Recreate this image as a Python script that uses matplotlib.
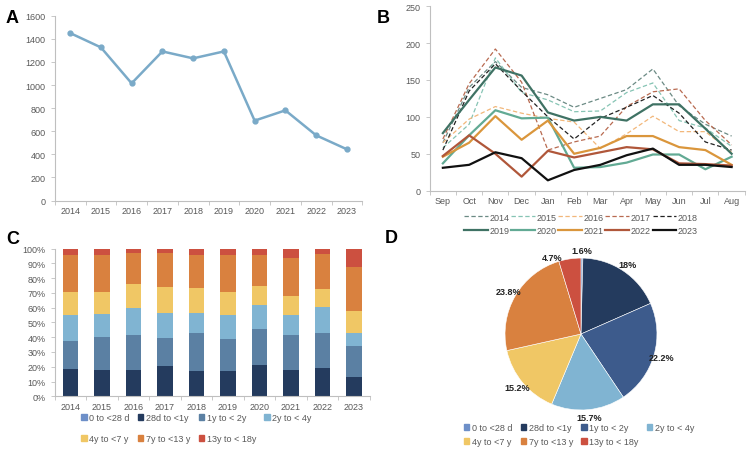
import matplotlib
matplotlib.use('Agg')
import matplotlib.pyplot as plt
from matplotlib.patches import Patch
import numpy as np

plt.rcParams['font.family'] = ['Liberation Sans', 'DejaVu Sans']
plt.rcParams['font.size'] = 6.5

# ---- data ----
years = ['2014', '2015', '2016', '2017', '2018', '2019', '2020', '2021', '2022', '2023']
admissions = [1450, 1326, 1015, 1291, 1231, 1291, 692, 781, 565, 444]

months = ['Sep', 'Oct', 'Nov', 'Dec', 'Jan', 'Feb', 'Mar', 'Apr', 'May', 'Jun', 'Jul', 'Aug']
monthly = {
    '2014': [65, 140, 175, 140, 130, 113, 125, 137, 165, 115, 90, 74],
    '2015': [58, 90, 180, 133, 123, 107, 108, 133, 146, 95, 85, 60],
    '2016': [65, 97, 114, 105, 98, 93, 57, 77, 101, 80, 80, 52],
    '2017': [70, 145, 192, 147, 55, 66, 74, 114, 134, 138, 95, 62],
    '2018': [55, 135, 172, 135, 100, 70, 98, 113, 129, 105, 66, 55],
    '2019': [78, 123, 167, 156, 106, 95, 100, 95, 117, 117, 84, 50],
    '2020': [37, 75, 109, 98, 99, 31, 32, 38, 49, 49, 29, 46],
    '2021': [46, 65, 101, 69, 95, 50, 58, 74, 74, 59, 55, 35],
    '2022': [47, 75, 50, 19, 54, 45, 52, 59, 56, 37, 36, 34],
    '2023': [31, 35, 52, 44, 14, 28, 35, 48, 57, 35, 35, 32],
}
month_colors = {
    '2014': '#6b8a84', '2015': '#86c4b4', '2016': '#f2b77a', '2017': '#b86a50',
    '2018': '#222222', '2019': '#3f7264', '2020': '#62aa94', '2021': '#da963c',
    '2022': '#b0573a', '2023': '#111111',
}
dashed_years = ['2014', '2015', '2016', '2017', '2018']

age_groups = ['0 to <28 d', '28d to <1y', '1y to < 2y', '2y to < 4y',
              '4y to <7 y', '7y to <13 y', '13y to < 18y']
age_share = [  # percent per year, in age_groups order
    [0, 18.5, 19.1, 17.4, 15.3, 25.4, 4.3],
    [0, 17.6, 22.3, 16.0, 14.8, 25.2, 4.1],
    [0, 17.6, 23.8, 18.1, 16.2, 21.4, 2.9],
    [0, 20.5, 18.9, 17.1, 17.6, 23.0, 2.9],
    [0, 16.9, 25.9, 13.5, 16.9, 22.1, 4.7],
    [0, 17.1, 21.6, 16.3, 15.9, 25.0, 4.1],
    [0, 21.2, 24.3, 16.0, 13.0, 21.4, 4.1],
    [0, 17.6, 24.1, 13.5, 12.4, 26.1, 6.3],
    [0, 19.1, 23.9, 17.6, 11.9, 23.9, 3.6],
    [0, 13.3, 20.9, 8.8, 14.7, 29.9, 12.4],
]
bar_colors = ['#6d8fc8', '#243b5e', '#5b80a3', '#80b4d2', '#f0c765', '#d9813f', '#cc5040']

pie_values = [0.4, 18, 22.2, 15.7, 15.2, 23.8, 4.7]
pie_labels = ['1.6%', '18%', '22.2%', '15.7%', '15.2%', '23.8%', '4.7%']
pie_colors = ['#6d8fc8', '#243b5e', '#3d5b8c', '#80b4d2', '#f0c765', '#d9813f', '#cc5040']

tick_col = '#595959'
spine_col = '#bfbfbf'


def style_axes(ax):
    for s in ['top', 'right']:
        ax.spines[s].set_visible(False)
    for s in ['left', 'bottom']:
        ax.spines[s].set_color(spine_col)
        ax.spines[s].set_linewidth(0.8)
    ax.tick_params(colors=spine_col, labelcolor=tick_col, length=3, width=0.6,
                   labelsize=6.5)
    ax.tick_params(axis='x', length=0, pad=4)
    ax.tick_params(axis='x', which='minor', length=3, width=0.6, colors=spine_col)


def row_order(items, ncol):
    # legend fills by column; reorder so entries read row by row
    nrow = int(np.ceil(len(items) / ncol))
    out = []
    for c in range(ncol):
        for r in range(nrow):
            k = r * ncol + c
            if k < len(items):
                out.append(items[k])
    return out


fig = plt.figure(figsize=(7.5, 4.52), dpi=100)

# ---- A ----
axA = fig.add_axes([0.073, 0.554, 0.41, 0.409])
x = np.arange(len(years))
axA.plot(x, admissions, color='#7aaac8', lw=1.8, marker='o', ms=3.5)
axA.set_xlim(-0.5, len(years) - 0.5)
axA.set_ylim(0, 1600)
axA.set_yticks(range(0, 1601, 200))
axA.set_xticks(x)
axA.set_xticklabels(years)
axA.set_xticks(np.arange(-0.5, len(years)), minor=True)
style_axes(axA)

# ---- B ----
axB = fig.add_axes([0.573, 0.576, 0.42, 0.408])
xm = np.arange(len(months))
linesB = []
for yr, vals in monthly.items():
    if yr in dashed_years:
        ln, = axB.plot(xm, vals, color=month_colors[yr], lw=0.9, ls=(0, (3.5, 2)), label=yr)
    else:
        ln, = axB.plot(xm, vals, color=month_colors[yr], lw=1.6, label=yr)
    linesB.append(ln)
axB.set_xlim(-0.5, len(months) - 0.5)
axB.set_ylim(0, 250)
axB.set_yticks(range(0, 251, 50))
axB.set_xticks(xm)
axB.set_xticklabels(months)
axB.set_xticks(np.arange(-0.5, len(months)), minor=True)
style_axes(axB)
yrs_b = list(monthly.keys())
axB.legend(row_order(linesB, 5), row_order(yrs_b, 5), ncol=5, loc='upper center',
           bbox_to_anchor=(0.48, -0.075), frameon=False, fontsize=6.5,
           handlelength=2.6, handletextpad=0.2, columnspacing=0.2,
           labelspacing=0.45, labelcolor=tick_col)

# ---- C ----
axC = fig.add_axes([0.073, 0.121, 0.42, 0.327])
shares = np.array(age_share)
bottom = np.zeros(len(years))
for i, grp in enumerate(age_groups):
    axC.bar(x, shares[:, i], 0.5, bottom=bottom, color=bar_colors[i], label=grp)
    bottom += shares[:, i]
axC.set_xlim(-0.5, len(years) - 0.5)
axC.set_ylim(0, 100)
axC.set_yticks(range(0, 101, 10))
axC.set_yticklabels([f'{v}%' for v in range(0, 101, 10)])
axC.set_xticks(x)
axC.set_xticklabels(years)
axC.set_xticks(np.arange(-0.5, len(years)), minor=True)
style_axes(axC)
handlesC = [Patch(color=c) for c in bar_colors]
axC.legend(row_order(handlesC, 4), row_order(age_groups, 4), ncol=4, loc='upper center',
           bbox_to_anchor=(0.45, -0.06), frameon=False, fontsize=6.5,
           handlelength=0.6, handleheight=0.6, handletextpad=0.3, columnspacing=0.9,
           labelspacing=1.3, labelcolor=tick_col)

# ---- D ----
axD = fig.add_axes([0.6429, 0.0403, 0.2635, 0.437])
wedges, texts = axD.pie(pie_values, labels=pie_labels, colors=pie_colors,
                        startangle=90, counterclock=False, labeldistance=1.1,
                        wedgeprops=dict(linewidth=0.4, edgecolor='white'),
                        textprops=dict(fontsize=6.5, fontweight='bold', color='#222222'))
for t in texts:
    t.set_ha('center')
    t.set_va('center')
# nudge the small top-left label away from the 1.6% one
px, py = texts[-1].get_position()
texts[-1].set_position((px - 0.22, py - 0.08))
axD.set_xlim(-1.3, 1.3)
axD.set_ylim(-1.3, 1.3)
axD.set_aspect('equal')
handlesD = [Patch(color=c) for c in pie_colors]
fig.legend(row_order(handlesD, 4), row_order(age_groups, 4), ncol=4, loc='upper center',
           bbox_to_anchor=(0.772, 0.08), frameon=False, fontsize=6.5,
           handlelength=0.6, handleheight=0.6, handletextpad=0.3, columnspacing=0.9,
           labelspacing=0.6, labelcolor=tick_col)

# panel letters
for lbl, (px, py) in zip('ABCD', [(0.008, 0.978), (0.503, 0.978), (0.008, 0.49), (0.513, 0.492)]):
    fig.text(px, py, lbl, fontsize=13, fontweight='bold', va='top', ha='left')

fig.savefig('out.png', dpi=100)
